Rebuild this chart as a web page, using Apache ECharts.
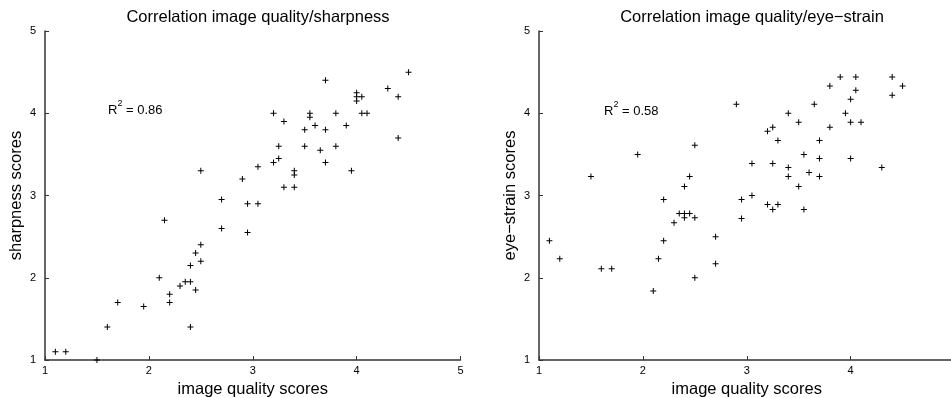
<!DOCTYPE html>
<html>
<head>
<meta charset="utf-8">
<script src="https://cdn.jsdelivr.net/npm/echarts@6/dist/echarts.min.js"></script>
<style>
  html, body { margin: 0; padding: 0; background: #fff; overflow: hidden; }
  #chart { width: 951px; height: 398px; }
</style>
</head>
<body>
<div id="chart"></div>
<script>
// left panel: image quality vs sharpness
const sharpQuality = [1.1, 1.2, 1.5, 1.6, 1.7, 1.95, 2.1, 2.15, 2.2, 2.2, 2.3, 2.35, 2.4, 2.4, 2.4, 2.45, 2.45, 2.5, 2.5, 2.5,
    2.7, 2.7, 2.9, 2.95, 2.95, 3.05, 3.05, 3.2, 3.2, 3.25, 3.25, 3.3, 3.3, 3.4, 3.4, 3.4, 3.5, 3.5, 3.55, 3.55,
    3.6, 3.65, 3.7, 3.7, 3.7, 3.8, 3.8, 3.9, 3.95, 4.0, 4.0, 4.0, 4.05, 4.05, 4.1, 4.3, 4.4, 4.4, 4.5]
const sharpScores = [1.1, 1.1, 1.0, 1.4, 1.7, 1.65, 2.0, 2.7, 1.8, 1.7, 1.9, 1.95, 1.95, 2.15, 1.4, 2.3, 1.85, 2.4, 2.2, 3.3,
    2.95, 2.6, 3.2, 2.9, 2.55, 2.9, 3.35, 3.4, 4.0, 3.45, 3.6, 3.9, 3.1, 3.1, 3.3, 3.25, 3.8, 3.6, 4.0, 3.95,
    3.85, 3.55, 4.4, 3.8, 3.4, 4.0, 3.6, 3.85, 3.3, 4.25, 4.2, 4.15, 4.2, 4.0, 4.0, 4.3, 4.2, 3.7, 4.5]

// right panel: image quality vs eye-strain
const strainQuality = [1.1, 1.2, 1.5, 1.6, 1.7, 1.95, 2.1, 2.15, 2.2, 2.2, 2.3, 2.35, 2.4, 2.4, 2.4, 2.45, 2.45, 2.5, 2.5, 2.5,
    2.7, 2.7, 2.9, 2.95, 2.95, 3.05, 3.05, 3.2, 3.2, 3.25, 3.25, 3.25, 3.3, 3.3, 3.4, 3.4, 3.4, 3.5, 3.5, 3.55,
    3.55, 3.6, 3.65, 3.7, 3.7, 3.7, 3.8, 3.8, 3.9, 3.95, 4.0, 4.0, 4.0, 4.05, 4.05, 4.1, 4.3, 4.4, 4.4, 4.5]
const strainScores = [2.45, 2.23, 3.23, 2.11, 2.11, 3.5, 1.84, 2.23, 2.45, 2.95, 2.67, 2.78, 2.78, 2.73, 3.11, 2.78, 3.23, 2.73, 2.0, 3.61,
    2.5, 2.17, 4.11, 2.95, 2.72, 3.0, 3.39, 3.78, 2.89, 3.83, 3.39, 2.83, 3.67, 2.89, 4.0, 3.34, 3.23, 3.89, 3.11, 3.5,
    2.83, 3.28, 4.11, 3.67, 3.45, 3.23, 4.33, 3.83, 4.44, 4.0, 4.17, 3.89, 3.45, 4.44, 4.28, 3.89, 3.34, 4.44, 4.22, 4.33]

const scoreTicks = [1, 2, 3, 4, 5]

const font = 'Liberation Sans, Arial, Helvetica, sans-serif'
const plusSymbol = 'path://M2.5,0h1v6h-1z M0,2.5h6v1h-6z'

function pairs(xs, ys) {
    return xs.map((x, i) => [x, ys[i]])
}

function scoreAxis(gridIndex, name, isY) {
    return {
        type: 'value',
        gridIndex: gridIndex,
        min: scoreTicks[0],
        max: scoreTicks[scoreTicks.length - 1],
        interval: 1,
        name: name,
        nameLocation: 'middle',
        nameGap: isY ? 20 : 18,
        nameTextStyle: { color: '#000', fontSize: 16.5, fontFamily: font },
        axisLine: { show: true, lineStyle: { color: '#333', width: 1.5 } },
        axisTick: { show: true, inside: true, length: 4, lineStyle: { color: '#333' } },
        axisLabel: { color: '#000', fontSize: 11, fontFamily: font, margin: isY ? 9 : 5 },
        splitLine: { show: false }
    }
}

function r2Text(x, y, value) {
    return {
        type: 'text',
        left: x,
        top: y,
        style: {
            text: '{r|R}{sup|2}{r| = ' + value + '}',
            rich: {
                r: { fontSize: 13, fontFamily: font, fill: '#000', verticalAlign: 'bottom', lineHeight: 18 },
                sup: { fontSize: 9, fontFamily: font, fill: '#000', verticalAlign: 'top', lineHeight: 18 }
            }
        }
    }
}

const chart = echarts.init(document.getElementById('chart'))
chart.setOption({
    animation: false,
    backgroundColor: '#fff',
    title: [
        {
            text: 'Correlation image quality/sharpness',
            left: 253, top: 4, textAlign: 'center',
            textStyle: { fontSize: 16.5, fontWeight: 'normal', color: '#000', fontFamily: font }
        },
        {
            text: 'Correlation image quality/eye\u2212strain',
            left: 747, top: 4, textAlign: 'center',
            textStyle: { fontSize: 16.5, fontWeight: 'normal', color: '#000', fontFamily: font }
        }
    ],
    grid: [
        { left: 45, top: 31, width: 415.5, height: 329, outerBoundsMode: 'none' },
        { left: 539, top: 31, width: 415.5, height: 329, outerBoundsMode: 'none' }
    ],
    xAxis: [
        scoreAxis(0, 'image quality scores', false),
        scoreAxis(1, 'image quality scores', false)
    ],
    yAxis: [
        scoreAxis(0, 'sharpness scores', true),
        scoreAxis(1, 'eye\u2212strain scores', true)
    ],
    graphic: [
        r2Text(108, 99, '0.86'),
        r2Text(604, 100, '0.58')
    ],
    series: [
        {
            type: 'scatter',
            xAxisIndex: 0, yAxisIndex: 0,
            symbol: plusSymbol,
            symbolSize: 6,
            itemStyle: { color: '#000', opacity: 1 },
            data: pairs(sharpQuality, sharpScores)
        },
        {
            type: 'scatter',
            xAxisIndex: 1, yAxisIndex: 1,
            symbol: plusSymbol,
            symbolSize: 6,
            itemStyle: { color: '#000', opacity: 1 },
            data: pairs(strainQuality, strainScores)
        }
    ]
})
</script>
</body>
</html>
